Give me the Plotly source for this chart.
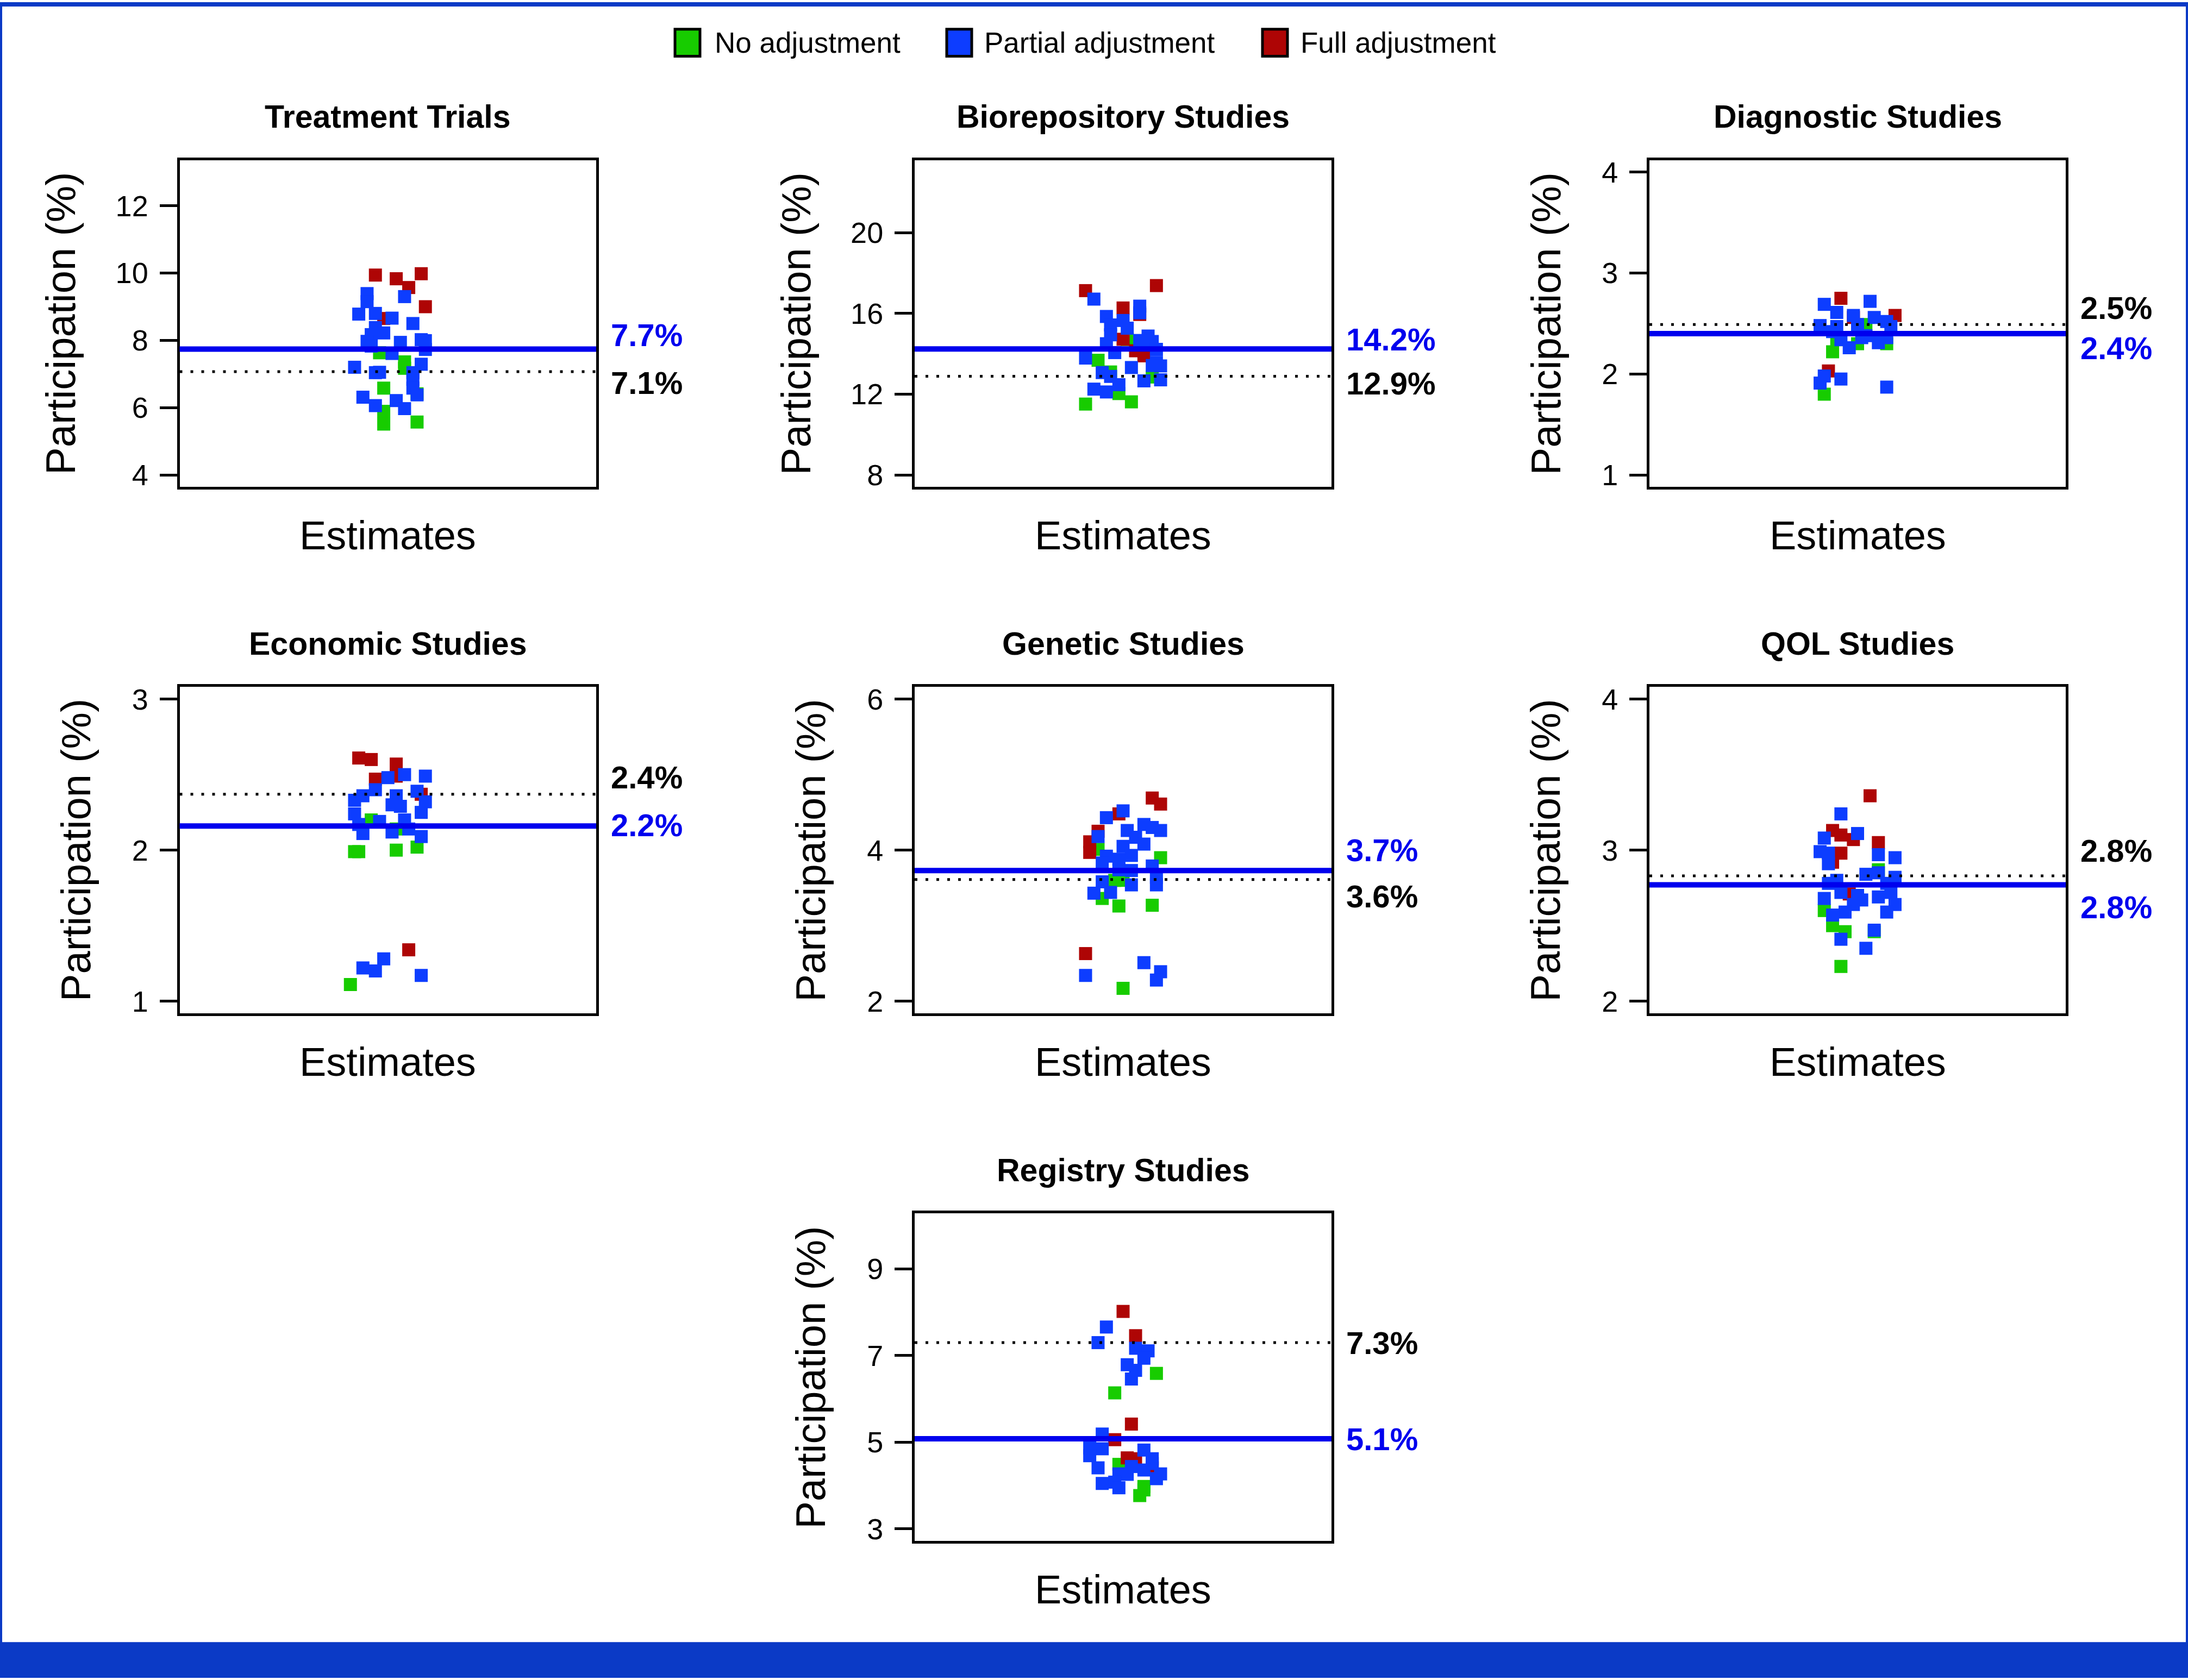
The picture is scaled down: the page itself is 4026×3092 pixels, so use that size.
import plotly.graph_objects as go

# ---------------- data ----------------
panel_titles = ["Treatment Trials", "Biorepository Studies", "Diagnostic Studies",
                "Economic Studies", "Genetic Studies", "QOL Studies", "Registry Studies"]
group_names = ["No adjustment", "Partial adjustment", "Full adjustment"]
y_limits = [(4, 13), (8, 23), (1, 4), (1, 3), (2, 6), (2, 4), (3, 10)]
y_ticks = [[4, 6, 8, 10, 12], [8, 12, 16, 20], [1, 2, 3, 4], [1, 2, 3],
           [2, 4, 6], [2, 3, 4], [3, 5, 7, 9]]
pooled_estimate = [7.74, 14.24, 2.40, 2.16, 3.73, 2.77, 5.08]   # solid blue line
reference_value = [7.07, 12.89, 2.49, 2.37, 3.61, 2.83, 7.30]   # dotted black line

# (jittered x, participation %) per adjustment group
tt_none = [(0.98, 7.63), (1.04, 7.36), (1.04, 7.17), (0.99, 6.58), (1.07, 6.41), (0.99, 5.89), (0.99, 5.51), (1.07, 5.57)]
tt_partial = [(0.95, 9.39), (0.95, 9.15), (0.93, 8.78), (0.97, 8.80), (1.04, 9.30), (1.01, 8.66), (1.06, 8.50), (0.97, 8.38),
              (0.99, 8.22), (0.96, 8.17), (1.03, 7.94), (0.95, 7.97), (0.96, 7.83), (1.08, 8.02), (1.09, 7.99), (1.09, 7.73),
              (1.01, 7.61), (1.08, 7.29), (0.92, 7.20), (0.97, 7.04), (0.98, 7.05), (1.06, 7.04), (1.06, 6.84), (1.06, 6.58),
              (1.07, 6.38), (0.94, 6.31), (1.02, 6.21), (0.97, 6.06), (1.04, 5.97)]
tt_full = [(0.97, 9.94), (1.02, 9.83), (1.08, 9.98), (1.05, 9.57), (1.09, 9.00), (0.99, 8.65)]

bio_none = [(0.94, 13.68), (0.97, 13.10), (1.07, 12.85), (0.99, 12.03), (1.02, 11.62), (0.91, 11.51), (1.01, 14.71)]
bio_partial = [(0.93, 16.71), (1.04, 16.36), (1.04, 16.03), (0.96, 15.85), (1.00, 15.65), (0.97, 15.43), (1.01, 15.27),
               (0.97, 14.94), (1.06, 14.88), (1.04, 14.66), (1.07, 14.61), (0.96, 14.50), (1.08, 14.22), (0.98, 14.06),
               (0.91, 13.79), (1.08, 13.57), (1.02, 13.32), (1.07, 13.42), (1.09, 13.40), (0.95, 13.07), (0.97, 12.88),
               (1.05, 12.66), (1.09, 12.71), (0.99, 12.47), (0.93, 12.25), (0.96, 12.11)]
bio_full = [(0.91, 17.13), (1.08, 17.38), (1.00, 16.27), (1.04, 15.95), (1.00, 14.72), (1.03, 14.15), (1.05, 13.90)]

diag_none = [(1.02, 2.49), (0.94, 2.22), (1.00, 2.30), (1.07, 2.30), (0.95, 2.34), (0.92, 1.80)]
diag_partial = [(0.92, 2.69), (1.03, 2.72), (0.95, 2.61), (0.99, 2.58), (1.04, 2.56), (1.07, 2.52), (0.91, 2.48),
                (0.95, 2.47), (1.00, 2.49), (1.08, 2.47), (0.94, 2.42), (1.02, 2.38), (1.07, 2.36), (0.96, 2.34),
                (1.01, 2.36), (0.98, 2.26), (1.05, 2.31), (0.92, 1.98), (0.91, 1.91), (0.96, 1.95), (1.07, 1.87)]
diag_full = [(0.96, 2.75), (1.09, 2.58), (0.93, 2.03), (0.99, 2.56)]

econ_none = [(0.96, 2.20), (1.02, 2.14), (0.92, 1.99), (0.93, 1.99), (1.02, 2.00), (1.07, 2.02), (0.91, 1.11)]
econ_partial = [(1.00, 2.48), (1.04, 2.50), (1.09, 2.49), (0.97, 2.40), (0.94, 2.36), (1.02, 2.36), (1.07, 2.39),
                (0.92, 2.33), (1.09, 2.32), (1.01, 2.30), (1.03, 2.29), (0.92, 2.24), (1.08, 2.25), (0.98, 2.19),
                (1.04, 2.20), (0.93, 2.17), (1.01, 2.12), (0.94, 2.11), (1.05, 2.14), (1.08, 2.09), (0.99, 1.28),
                (0.94, 1.22), (0.97, 1.20), (1.08, 1.17)]
econ_full = [(0.93, 2.61), (0.96, 2.60), (1.02, 2.57), (0.97, 2.47), (1.02, 2.49), (1.08, 2.37), (1.05, 1.34)]

gen_none = [(0.94, 4.01), (1.09, 3.90), (0.98, 3.60), (1.00, 3.60), (0.95, 3.36), (0.99, 3.26), (1.07, 3.27), (1.00, 2.17)]
gen_partial = [(1.00, 4.52), (0.96, 4.43), (1.01, 4.26), (1.05, 4.34), (1.07, 4.30), (1.09, 4.26), (0.94, 4.18),
               (1.03, 4.17), (1.05, 4.08), (1.00, 4.05), (1.02, 3.93), (0.96, 3.92), (0.99, 3.88), (0.95, 3.83),
               (1.07, 3.79), (0.99, 3.74), (1.02, 3.73), (1.08, 3.64), (0.95, 3.58), (1.02, 3.54), (1.08, 3.54),
               (0.93, 3.43), (0.97, 3.44), (1.05, 2.51), (1.09, 2.39), (0.91, 2.34), (1.08, 2.28)]
gen_full = [(1.07, 4.69), (1.09, 4.61), (0.99, 4.48), (0.94, 4.25), (0.92, 4.11), (0.92, 3.97), (0.91, 2.63)]

qol_none = [(1.05, 2.87), (0.92, 2.60), (0.94, 2.50), (0.97, 2.46), (1.04, 2.46), (0.96, 2.23)]
qol_partial = [(0.96, 3.24), (1.00, 3.11), (0.92, 3.08), (0.91, 2.99), (0.93, 2.98), (1.05, 2.97), (1.09, 2.95),
               (0.93, 2.91), (1.02, 2.84), (1.05, 2.85), (1.09, 2.82), (0.95, 2.80), (0.93, 2.78), (1.07, 2.78),
               (0.96, 2.72), (1.00, 2.70), (1.08, 2.72), (1.05, 2.69), (0.92, 2.68), (1.01, 2.67), (1.09, 2.64),
               (0.99, 2.64), (1.07, 2.59), (0.97, 2.59), (0.94, 2.57), (1.04, 2.47), (0.96, 2.41), (1.02, 2.35)]
qol_full = [(1.03, 3.36), (0.94, 3.13), (0.96, 3.10), (0.99, 3.07), (1.05, 3.05), (0.96, 2.98), (0.94, 2.92), (0.98, 2.71)]

reg_none = [(1.08, 6.59), (0.98, 6.14), (0.99, 4.49), (1.05, 3.98), (1.05, 3.90), (1.04, 3.77)]
reg_partial = [(0.96, 7.66), (0.94, 7.30), (1.03, 7.17), (1.06, 7.11), (1.05, 6.94), (1.01, 6.79), (1.03, 6.66),
               (1.02, 6.46), (0.95, 5.19), (0.92, 4.87), (0.95, 4.85), (0.92, 4.69), (1.05, 4.82), (1.07, 4.62),
               (1.02, 4.44), (0.94, 4.41), (1.07, 4.51), (0.99, 4.27), (1.01, 4.26), (1.05, 4.36), (1.09, 4.27),
               (0.95, 4.05), (0.98, 4.08), (1.08, 4.16), (0.99, 3.95)]
reg_full = [(1.00, 8.02), (1.03, 7.46), (1.02, 5.42), (0.98, 5.06), (1.01, 4.64), (1.03, 4.62), (1.07, 4.41)]

panel_points = [
    (tt_none, tt_partial, tt_full),
    (bio_none, bio_partial, bio_full),
    (diag_none, diag_partial, diag_full),
    (econ_none, econ_partial, econ_full),
    (gen_none, gen_partial, gen_full),
    (qol_none, qol_partial, qol_full),
    (reg_none, reg_partial, reg_full),
]

# ---------------- styling / layout ----------------
W, H = 4026, 3092
group_colors = ["#17CC00", "#0D3DFF", "#AE0505"]
LINE_BLUE = "#0000EE"
FRAME_BLUE = "#0B3AC6"
REG = "Liberation Sans, Arial, sans-serif"

col_px = [(330.5, 1097), (1683, 2450), (3035, 3801)]
row_px = [(288, 893), (1263, 1866.5), (2237, 2843)]
cells = [(0, 0), (0, 1), (0, 2), (1, 0), (1, 1), (1, 2), (2, 1)]
draw_order = [0, 2, 1]  # green, red, then blue on top
# vertical pixel nudges of the value labels (positive = up), so close labels don't collide
pooled_label_shift = [26, 18, -26, 2, 38, -41, 0]
reference_label_shift = [-21, -13, 31, 31, -31, 46, 0]

fig = go.Figure()
layout = dict(width=W, height=H, autosize=False, margin=dict(l=0, r=0, t=0, b=0),
              paper_bgcolor="white", plot_bgcolor="white", showlegend=False)
shapes, annotations = [], []

for i in range(7):
    r, c = cells[i]
    k = "" if i == 0 else str(i + 1)
    xd = [col_px[c][0] / W, col_px[c][1] / W]
    yd = [1 - row_px[r][1] / H, 1 - row_px[r][0] / H]
    lo, hi = y_limits[i]
    pad = 0.04 * (hi - lo)
    ylo, yhi = lo - pad, hi + pad

    layout["xaxis" + k] = dict(domain=xd, range=[0.5, 1.5], anchor="y" + k, showticklabels=False,
                               ticks="", showgrid=False, zeroline=False, showline=True, mirror=True,
                               linecolor="black", linewidth=5)
    layout["yaxis" + k] = dict(domain=yd, range=[ylo, yhi], anchor="x" + k, tickmode="array",
                               tickvals=y_ticks[i], ticktext=[str(v) for v in y_ticks[i]],
                               ticks="outside", ticklen=32, tickwidth=5, tickcolor="black",
                               ticklabelstandoff=10,
                               tickfont=dict(family=REG, size=54, color="black"),
                               showgrid=False, zeroline=False, showline=True, mirror=True,
                               linecolor="black", linewidth=5)

    for g in draw_order:
        pts = panel_points[i][g]
        fig.add_trace(go.Scatter(x=[p[0] for p in pts], y=[p[1] for p in pts], mode="markers",
                                 name=group_names[g], xaxis="x" + k, yaxis="y" + k,
                                 marker=dict(symbol="square", size=24, color=group_colors[g],
                                             line=dict(width=0)),
                                 showlegend=False))

    # reference lines
    shapes.append(dict(type="line", xref="x" + k + " domain", x0=0, x1=1, yref="y" + k,
                       y0=reference_value[i], y1=reference_value[i],
                       line=dict(color="black", width=5, dash="5px,15px"), layer="above"))
    shapes.append(dict(type="line", xref="x" + k + " domain", x0=0, x1=1, yref="y" + k,
                       y0=pooled_estimate[i], y1=pooled_estimate[i],
                       line=dict(color=LINE_BLUE, width=10), layer="above"))

    # value labels
    annotations.append(dict(xref="paper", x=xd[1] + 25 / W, xanchor="left", yref="y" + k,
                            y=pooled_estimate[i], yanchor="middle", yshift=pooled_label_shift[i],
                            showarrow=False, text=f"{pooled_estimate[i]:.1f}%",
                            font=dict(family=REG, size=58, color=LINE_BLUE, weight="bold")))
    annotations.append(dict(xref="paper", x=xd[1] + 25 / W, xanchor="left", yref="y" + k,
                            y=reference_value[i], yanchor="middle", yshift=reference_label_shift[i],
                            showarrow=False, text=f"{reference_value[i]:.1f}%",
                            font=dict(family=REG, size=58, color="black", weight="bold")))

    # panel title, x label, y label
    xc = (xd[0] + xd[1]) / 2
    annotations.append(dict(xref="paper", yref="paper", x=xc, y=yd[1] + 80 / H, xanchor="center",
                            yanchor="middle", showarrow=False, text="<b>" + panel_titles[i] + "</b>",
                            font=dict(family=REG, size=59, color="black")))
    annotations.append(dict(xref="paper", yref="paper", x=xc, y=yd[0] - 90 / H, xanchor="center",
                            yanchor="middle", showarrow=False, text="Estimates",
                            font=dict(family=REG, size=74, color="black")))
    ndig = max(len(str(v)) for v in y_ticks[i])
    dist = 163 + 28 * ndig
    annotations.append(dict(xref="paper", yref="paper", x=xd[0] - dist / W, y=(yd[0] + yd[1]) / 2,
                            xanchor="center", yanchor="middle", textangle=-90, showarrow=False,
                            text="Participation (%)",
                            font=dict(family=REG, size=76, color="black")))

# custom legend at top
legend_box_cx = [1265, 1765, 2346]
legend_text_x = [1313, 1809, 2391]
LEG_Y = 71
for g in range(3):
    shapes.append(dict(type="rect", xref="paper", yref="paper",
                       x0=(legend_box_cx[g] - 23) / W, x1=(legend_box_cx[g] + 23) / W,
                       y0=1 - (LEG_Y + 25) / H, y1=1 - (LEG_Y - 25) / H,
                       fillcolor=group_colors[g], line=dict(color="black", width=5)))
    annotations.append(dict(xref="paper", yref="paper", x=legend_text_x[g] / W, y=1 - LEG_Y / H,
                            xanchor="left", yanchor="middle", showarrow=False, text=group_names[g],
                            font=dict(family=REG, size=53, color="black")))

# frame and bottom band
shapes.append(dict(type="rect", xref="paper", yref="paper", x0=0, x1=1, y0=0, y1=1,
                   line=dict(color=FRAME_BLUE, width=8), fillcolor="rgba(0,0,0,0)", layer="above"))
shapes.append(dict(type="rect", xref="paper", yref="paper", x0=0, x1=1, y0=0, y1=62 / H,
                   line=dict(width=0), fillcolor=FRAME_BLUE, layer="above"))

layout["shapes"] = shapes
layout["annotations"] = annotations
fig.update_layout(**layout)
fig.write_html("out.html", config={"displayModeBar": False},
               post_script="document.body.style.margin='0';document.body.style.overflow='hidden';")
